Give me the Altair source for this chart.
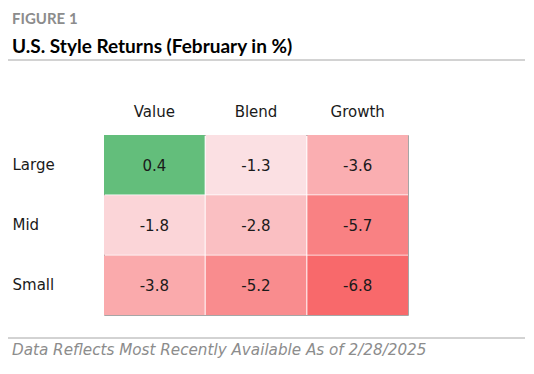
import altair as alt
import pandas as pd

# ---- data ----
columns = ["Value", "Blend", "Growth"]
rows = ["Large", "Mid", "Small"]
returns = [
    [0.4, -1.3, -3.6],
    [-1.8, -2.8, -5.7],
    [-3.8, -5.2, -6.8],
]
kicker = ["FIGURE 1"]
title = ["U.S. Style Returns (February in %)"]
footnote = ["Data Reflects Most Recently Available As of 2/28/2025"]

records = []
for r, vals in zip(rows, returns):
    for c, v in zip(columns, vals):
        records.append({"size": r, "style": c, "ret": v})
df = pd.DataFrame(records)

FONT = "DejaVu Sans"
TFONT = "Lato"

base = alt.Chart(df).encode(
    x=alt.X("style:N", sort=columns,
            scale=alt.Scale(paddingInner=0.01, paddingOuter=0),
            axis=alt.Axis(orient="top", title=None, domain=False, ticks=False,
                          tickSize=0, labelPadding=16, labelFontSize=15,
                          labelColor="#1a1a1a", labelFont=FONT, labelAngle=0)),
    y=alt.Y("size:N", sort=rows,
            scale=alt.Scale(paddingInner=0.015, paddingOuter=0),
            axis=alt.Axis(title=None, domain=False, ticks=False, tickSize=0,
                          labelAlign="left", labelPadding=92, labelFontSize=15,
                          labelColor="#1a1a1a", labelFont=FONT)),
)

cells = base.mark_rect().encode(
    color=alt.Color("ret:Q",
                    scale=alt.Scale(domain=[-6.8, 0, 0.4],
                                    range=["#F8696B", "#FCFCFF", "#63BE7B"],
                                    interpolate="rgb"),
                    legend=None)
)

labels = base.transform_calculate(
    lbl="replace(format(datum.ret, '.1f'), '\u2212', '-')"
).mark_text(fontSize=15, font=FONT, color="#1a1a1a", dy=1).encode(
    text=alt.Text("lbl:N")
)

kick = alt.Chart(pd.DataFrame({"t": kicker})).mark_text(
    align="left", baseline="alphabetic", fontSize=15, fontWeight="bold",
    font=TFONT, color="#8c8c8c"
).encode(x=alt.value(-92), y=alt.value(-111), text="t:N")

ttl = alt.Chart(pd.DataFrame({"t": title})).mark_text(
    align="left", baseline="alphabetic", fontSize=19, fontWeight="bold",
    font=TFONT, color="#000000"
).encode(x=alt.value(-92), y=alt.value(-82), text="t:N")

foot = alt.Chart(pd.DataFrame({"t": footnote})).mark_text(
    align="left", baseline="alphabetic", fontSize=15.2, fontStyle="italic",
    font=FONT, color="#8c8c8c"
).encode(x=alt.value(-92), y=alt.value(220), text="t:N")

rule_top = alt.Chart(pd.DataFrame({"a": [0]})).mark_rule(
    color="#a6a6a6", strokeWidth=1
).encode(x=alt.value(-96), x2=alt.value(421), y=alt.value(-75))

rule_bot = alt.Chart(pd.DataFrame({"a": [0]})).mark_rule(
    color="#a6a6a6", strokeWidth=1
).encode(x=alt.value(-96), x2=alt.value(421), y=alt.value(203))

chart = alt.layer(cells, labels, kick, ttl, foot, rule_top, rule_bot).properties(
    width=304, height=180,
    autosize="none",
    padding={"left": 96, "top": 127, "right": 118, "bottom": 51},
    background="white",
).configure_view(stroke="#a6a6a6", strokeWidth=1)

chart.save("out.html", embed_options={"renderer": "svg", "actions": False})
